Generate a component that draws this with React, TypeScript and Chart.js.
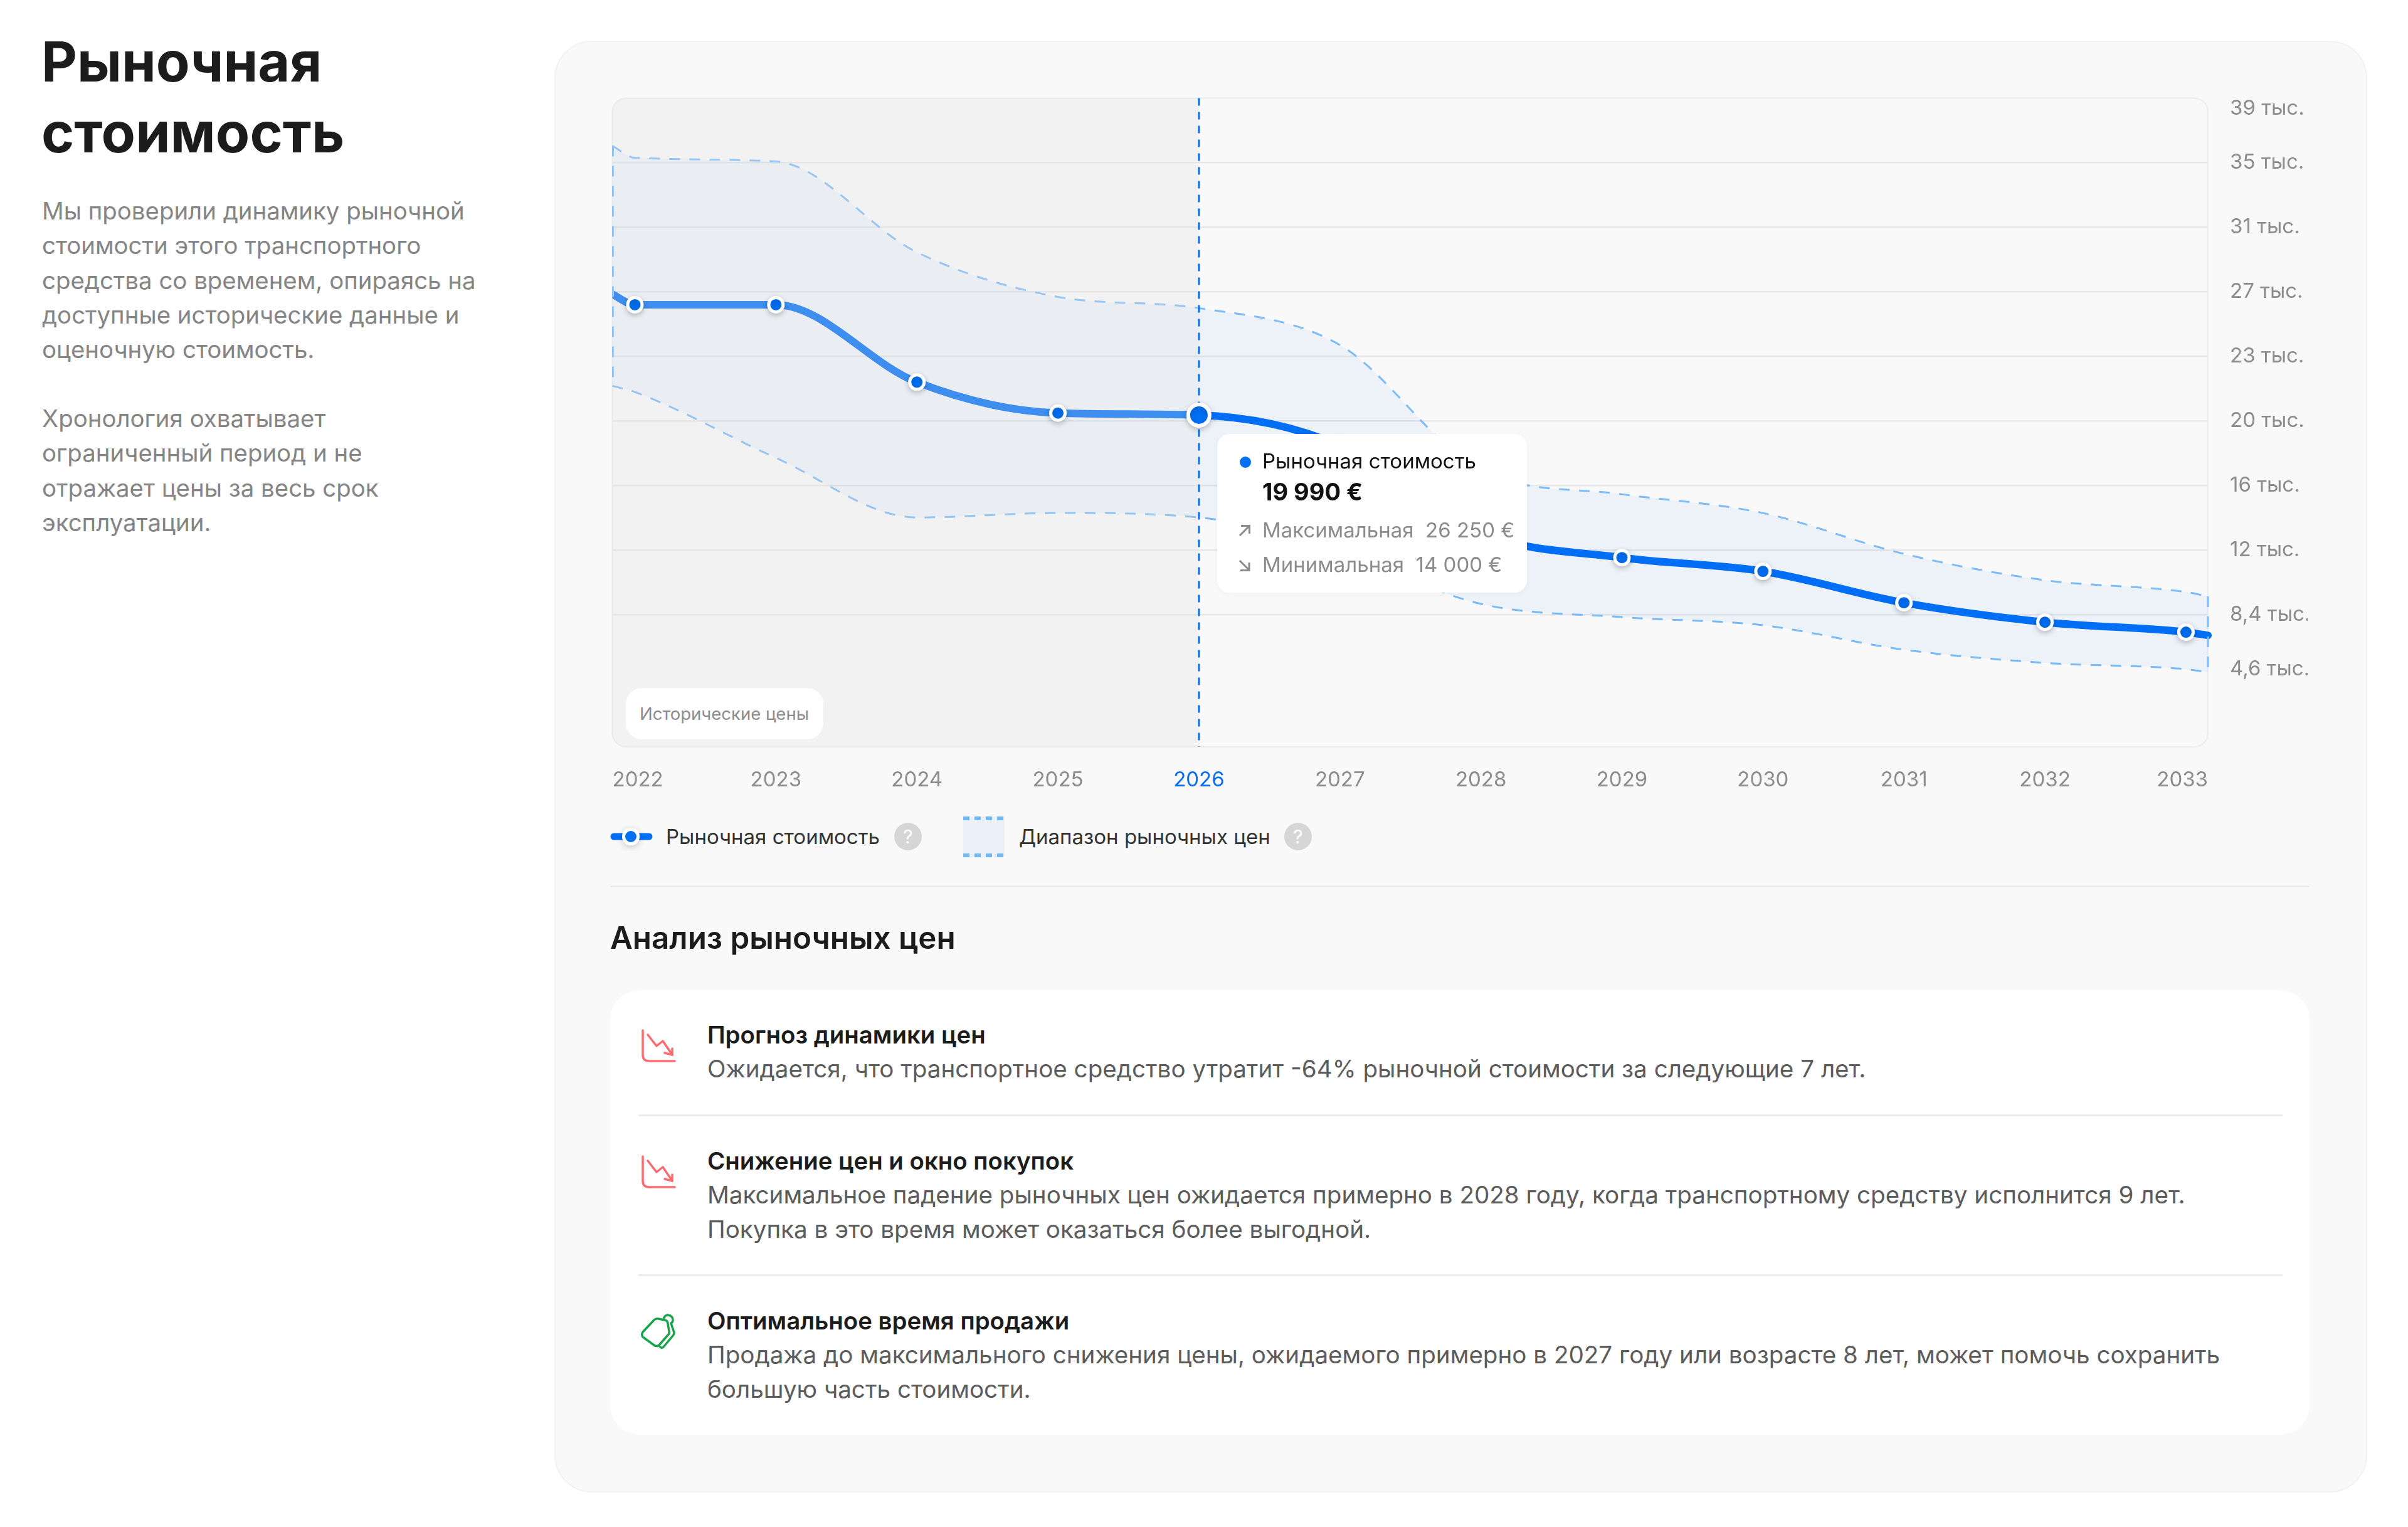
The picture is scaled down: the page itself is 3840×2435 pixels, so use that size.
import React, { useEffect, useRef } from "react";
import Chart from "chart.js/auto";

const FONT = "Inter, sans-serif";
const BLUE = "#006ff5";
const GREY_TEXT = "#8c8c8c";
const DASH_BLUE = "#7cbcf8";

// values, one per year
const years = [2022, 2023, 2024, 2025, 2026, 2027, 2028, 2029, 2030, 2031, 2032, 2033];
const marketValues = [26450, 26450, 21920, 20110, 19990, 18220, 13080, 11650, 10850, 9010, 7870, 7290];
const maxValues = [35050, 34830, 29520, 26910, 26250, 24090, 16750, 15360, 14260, 11870, 10330, 9640];
const minValues = [21340, 17490, 14000, 14260, 14000, 11980, 8940, 8170, 7690, 6260, 5490, 5120];

// the lines run on past the first and last year up to the plot edges
const xMin = 2021.84;
const xMax = 2033.156;
const marketEdges = [27060, 7100];
const maxEdges = [35750, 9380];
const minEdges = [21700, 4940];

const yMin = 575;
const yMax = 38540;
const yTickValues = [37930, 34760, 30980, 27200, 23420, 19640, 15860, 12080, 8300, 5120];
const yTickLabels = ["39 тыс.", "35 тыс.", "31 тыс.", "27 тыс.", "23 тыс.", "20 тыс.", "16 тыс.", "12 тыс.", "8,4 тыс.", "4,6 тыс."];
const xTickValues = [xMin, 2023, 2024, 2025, 2026, 2027, 2028, 2029, 2030, 2031, 2032, xMax];
const xTickLabels = ["2022", "2023", "2024", "2025", "2026", "2027", "2028", "2029", "2030", "2031", "2032", "2033"];
const currentYear = 2026;

const introLines = [
  ["Мы проверили динамику рыночной", 336],
  ["стоимости этого транспортного", 391],
  ["средства со временем, опираясь на", 447],
  ["доступные исторические данные и", 502],
  ["оценочную стоимость.", 557],
  ["Хронология охватывает", 667],
  ["ограниченный период и не", 722],
  ["отражает цены за весь срок", 778],
  ["эксплуатации.", 833],
];

const withEdges = (edges, values) => [
  { x: xMin, y: edges[0] },
  ...values.map((v, i) => ({ x: years[i], y: v })),
  { x: xMax, y: edges[1] },
];

const bandPlugin = {
  id: "band",
  beforeDatasetsDraw(chart) {
    const { ctx, chartArea: a } = chart;
    ctx.save();
    ctx.beginPath();
    ctx.roundRect(a.left, a.top, a.right - a.left, a.bottom - a.top, 22);
    ctx.strokeStyle = "#ececec";
    ctx.lineWidth = 2;
    ctx.stroke();
    ctx.restore();
  },
  beforeDatasetDraw(chart, args) {
    if (args.index === 0) {
      chart.ctx.save();
      chart.ctx.shadowColor = "rgba(0,0,0,0.2)";
      chart.ctx.shadowBlur = 10;
      chart.ctx.shadowOffsetY = 3;
    }
  },
  afterDatasetDraw(chart, args) {
    const { ctx, chartArea: a, scales } = chart;
    if (args.index === 0) {
      ctx.restore();
      return;
    }
    if (args.index !== 1) return;
    const now = scales.x.getPixelForValue(currentYear);

    ctx.save();
    // dashed closing edges of the price range
    ctx.strokeStyle = DASH_BLUE;
    ctx.lineWidth = 3;
    ctx.setLineDash([17, 15]);
    ctx.beginPath();
    ctx.moveTo(a.left + 1, scales.y.getPixelForValue(maxEdges[0]));
    ctx.lineTo(a.left + 1, scales.y.getPixelForValue(minEdges[0]));
    ctx.moveTo(a.right, scales.y.getPixelForValue(maxEdges[1]));
    ctx.lineTo(a.right, scales.y.getPixelForValue(minEdges[1]));
    ctx.stroke();
    ctx.setLineDash([]);

    // historical part is greyed over the lines
    ctx.save();
    ctx.beginPath();
    ctx.roundRect(a.left, a.top, now - a.left, a.bottom - a.top, [22, 0, 0, 22]);
    ctx.fillStyle = "rgba(226,226,226,0.27)";
    ctx.fill();
    ctx.restore();

    ctx.strokeStyle = BLUE;
    ctx.lineWidth = 3;
    ctx.setLineDash([12, 10]);
    ctx.beginPath();
    ctx.moveTo(now, a.top);
    ctx.lineTo(now, a.bottom);
    ctx.stroke();
    ctx.restore();
  },
};

const MarketChart = () => {
  const canvasRef = useRef(null);

  useEffect(() => {
    const activeIndex = years.indexOf(currentYear);
    const chart = new Chart(canvasRef.current, {
      type: "line",
      data: {
        datasets: [
          {
            label: "Точки",
            data: years.map((y, i) => ({ x: y, y: marketValues[i] })),
            showLine: false,
            backgroundColor: BLUE,
            borderColor: "#ffffff",
            pointBackgroundColor: BLUE,
            pointBorderColor: "#ffffff",
            pointRadius: (c) => (c.dataIndex === activeIndex ? 17 : 11.5),
            pointBorderWidth: (c) => (c.dataIndex === activeIndex ? 6 : 5),
            order: 0,
          },
          {
            label: "Рыночная стоимость",
            data: withEdges(marketEdges, marketValues),
            borderColor: BLUE,
            borderWidth: 12,
            borderCapStyle: "round",
            cubicInterpolationMode: "monotone",
            pointRadius: 0,
            clip: { left: 0, right: 8, top: 0, bottom: 0 },
            order: 1,
          },
          {
            label: "Максимальная",
            data: withEdges(maxEdges, maxValues),
            borderColor: DASH_BLUE,
            borderWidth: 3,
            borderDash: [17, 15],
            backgroundColor: "rgba(0,110,245,0.05)",
            fill: "+1",
            cubicInterpolationMode: "monotone",
            pointRadius: 0,
            order: 2,
          },
          {
            label: "Минимальная",
            data: withEdges(minEdges, minValues),
            borderColor: DASH_BLUE,
            borderWidth: 3,
            borderDash: [17, 15],
            cubicInterpolationMode: "monotone",
            pointRadius: 0,
            order: 3,
          },
        ],
      },
      options: {
        responsive: false,
        animation: false,
        events: [],
        layout: { padding: { left: 11, top: 16, right: 0, bottom: 0 } },
        plugins: { legend: { display: false }, tooltip: { enabled: false } },
        scales: {
          x: {
            type: "linear",
            min: xMin,
            max: xMax,
            grid: { display: false },
            border: { display: false },
            afterBuildTicks: (s) => {
              s.ticks = xTickValues.map((value) => ({ value }));
            },
            afterFit: (s) => {
              s.height = 69;
              s.paddingLeft = 0;
              s.paddingRight = 0;
            },
            ticks: {
              autoSkip: false,
              maxRotation: 0,
              align: "inner",
              padding: 25,
              font: { family: FONT, size: 33 },
              color: (c) => (c.tick.value === currentYear ? "#0a6fef" : GREY_TEXT),
              callback: (value, i) => xTickLabels[i],
            },
          },
          y: {
            position: "right",
            min: yMin,
            max: yMax,
            border: { display: false },
            grid: {
              drawTicks: false,
              lineWidth: 2.5,
              // the first and last label have no line of their own
              color: (c) => (c.index === 0 || c.index === yTickValues.length - 1 ? "transparent" : "#e7e7e7"),
            },
            afterBuildTicks: (s) => {
              s.ticks = yTickValues.map((value) => ({ value }));
            },
            afterFit: (s) => {
              s.width = 159;
              s.paddingTop = 0;
              s.paddingBottom = 0;
            },
            ticks: {
              autoSkip: false,
              padding: 35,
              font: { family: FONT, size: 33 },
              color: GREY_TEXT,
              callback: (value, i) => yTickLabels[i],
            },
          },
        },
      },
      plugins: [bandPlugin],
    });

    return () => chart.destroy();
  }, []);

  return (
    <canvas
      ref={canvasRef}
      width={2720}
      height={1120}
      style={{ position: "absolute", left: 960, top: 140, width: 2720, height: 1120 }}
    />
  );
};

// a line of text placed by its vertical centre
const Line = ({ x, cy, size, color, weight = 400, children }: any) => (
  <div
    style={{
      position: "absolute",
      left: x,
      top: cy - size,
      height: size * 2,
      lineHeight: `${size * 2}px`,
      fontSize: size,
      fontWeight: weight,
      color,
      whiteSpace: "pre",
    }}
  >
    {children}
  </div>
);

const Box = ({ style }: any) => <div style={{ position: "absolute", ...style }} />;

const HelpDot = ({ x, cy }: any) => (
  <div
    style={{
      position: "absolute",
      left: x - 22,
      top: cy - 22,
      width: 44,
      height: 44,
      borderRadius: 22,
      background: "#d6d6d6",
      color: "#fff",
      fontSize: 30,
      lineHeight: "44px",
      textAlign: "center",
    }}
  >
    ?
  </div>
);

const DropIcon = ({ x, y }: any) => (
  <svg
    style={{ position: "absolute", left: x, top: y }}
    width={80}
    height={80}
    fill="none"
    stroke="#ff6b70"
    strokeWidth={3.5}
    strokeLinecap="round"
    strokeLinejoin="round"
  >
    <path d="M15 13 V52 Q15 62 25 62 H66" />
    <path d="M23 20 L37 38 L47 30 L62 52" />
    <path d="M50 49 L62 52 L62 42" />
  </svg>
);

const TagIcon = ({ x, y }: any) => (
  <svg
    style={{ position: "absolute", left: x, top: y }}
    width={80}
    height={80}
    fill="none"
    stroke="#16a34a"
    strokeWidth={3.5}
    strokeLinecap="round"
    strokeLinejoin="round"
  >
    <path d="M15 47 Q12 42 16 38 L33 20 Q36 17 40 18 L50 20 Q55 21 55 26 L57 38 Q58 41 55 44 L41 60 Q37 63 33 60 Z" />
    <path d="M49 19 Q48 13 55 12 Q63 13 63 20 Q63 24 60 25 L65 40 Q65 43 63 45 L48 63 Q45 66 42 62" />
  </svg>
);

const Arrow = ({ x, y, down }: any) => (
  <svg style={{ position: "absolute", left: x, top: y }} width={22} height={20} fill="none" stroke={GREY_TEXT} strokeWidth={3}>
    {down ? <path d="M3 2 L18 17 M18 5 V17.5 H4" /> : <path d="M3 18 L18 3 M5 2.5 H18.5 V15" />}
  </svg>
);

export default function App() {
  return (
    <div
      style={{
        position: "absolute",
        left: 0,
        top: 0,
        width: 3840,
        height: 2435,
        overflow: "hidden",
        background: "#fff",
        fontFamily: FONT,
      }}
    >
      <Line x={66} cy={98} size={88} color="#1c1c1c" weight={700}>Рыночная</Line>
      <Line x={66} cy={211} size={89} color="#1c1c1c" weight={700}>стоимость</Line>
      {introLines.map(([text, cy]) => (
        <Line key={text} x={67} cy={cy} size={38.4} color="#858585">{text}</Line>
      ))}

      <Box
        style={{
          left: 884,
          top: 65,
          width: 2891,
          height: 2315,
          boxSizing: "border-box",
          borderRadius: 60,
          background: "#f9f9f9",
          border: "2px solid #f2f2f2",
        }}
      />

      <MarketChart />

      <Box style={{ left: 998, top: 1097, width: 315, height: 82, borderRadius: 26, background: "#fff" }} />
      <Line x={1020} cy={1138} size={27.5} color={GREY_TEXT}>Исторические цены</Line>

      <Box
        style={{
          left: 1941,
          top: 692,
          width: 494,
          height: 253,
          borderRadius: 20,
          background: "#fff",
          boxShadow: "0 2px 10px rgba(0,0,0,0.03)",
        }}
      />
      <Box style={{ left: 1977, top: 728, width: 18, height: 18, borderRadius: 9, background: BLUE }} />
      <Line x={2013} cy={735} size={33} color="#111">Рыночная стоимость</Line>
      <Line x={2013} cy={784} size={38} color="#111" weight={700}>19 990 €</Line>
      <Arrow x={1974} y={836} />
      <Line x={2013} cy={845} size={33} color={GREY_TEXT}>Максимальная  26 250 €</Line>
      <Arrow x={1974} y={892} down />
      <Line x={2013} cy={900} size={33} color={GREY_TEXT}>Минимальная  14 000 €</Line>

      <svg style={{ position: "absolute", left: 965, top: 1308 }} width={85} height={55}>
        <defs>
          <filter id="legendShadow" x="-50%" y="-50%" width="200%" height="200%">
            <feDropShadow dx="0" dy="3" stdDeviation="6" floodColor="#000" floodOpacity="0.2" />
          </filter>
        </defs>
        <line x1={14} y1={26} x2={70} y2={26} stroke={BLUE} strokeWidth={11} strokeLinecap="round" />
        <circle cx={41} cy={26} r={11.5} fill={BLUE} stroke="#fff" strokeWidth={5} filter="url(#legendShadow)" />
      </svg>
      <Line x={1062} cy={1334} size={33} color="#333">Рыночная стоимость</Line>
      <HelpDot x={1448} cy={1334} />

      <Box style={{ left: 1536, top: 1302, width: 66, height: 65, background: "#ecf1f9" }} />
      <svg style={{ position: "absolute", left: 1536, top: 1302 }} width={66} height={65}>
        <line x1={0} y1={3} x2={66} y2={3} stroke="#72b8f8" strokeWidth={6} strokeDasharray="10 8" />
        <line x1={0} y1={62} x2={66} y2={62} stroke="#72b8f8" strokeWidth={6} strokeDasharray="10 8" />
      </svg>
      <Line x={1625} cy={1334} size={33} color="#333">Диапазон рыночных цен</Line>
      <HelpDot x={2070} cy={1334} />

      <Box style={{ left: 973, top: 1412, width: 2710, height: 3, background: "#ececec" }} />
      <Line x={973} cy={1495} size={49.3} color="#1c1c1c" weight={600}>Анализ рыночных цен</Line>

      <Box style={{ left: 973, top: 1579, width: 2710, height: 709, borderRadius: 48, background: "#fff" }} />

      <DropIcon x={1010} y={1630} />
      <Line x={1128} cy={1650} size={38.4} color="#1c1c1c" weight={600}>Прогноз динамики цен</Line>
      <Line x={1128} cy={1705} size={38.6} color="#5c5c5c">Ожидается, что транспортное средство утратит -64% рыночной стоимости за следующие 7 лет.</Line>
      <Box style={{ left: 1018, top: 1777, width: 2622, height: 3, background: "#ececec" }} />

      <DropIcon x={1010} y={1831} />
      <Line x={1128} cy={1851} size={38.4} color="#1c1c1c" weight={600}>Снижение цен и окно покупок</Line>
      <Line x={1128} cy={1906} size={38.6} color="#5c5c5c">Максимальное падение рыночных цен ожидается примерно в 2028 году, когда транспортному средству исполнится 9 лет.</Line>
      <Line x={1128} cy={1961} size={38.6} color="#5c5c5c">Покупка в это время может оказаться более выгодной.</Line>
      <Box style={{ left: 1018, top: 2032, width: 2622, height: 3, background: "#ececec" }} />

      <TagIcon x={1010} y={2085} />
      <Line x={1128} cy={2106} size={38.4} color="#1c1c1c" weight={600}>Оптимальное время продажи</Line>
      <Line x={1128} cy={2161} size={38.6} color="#5c5c5c">Продажа до максимального снижения цены, ожидаемого примерно в 2027 году или возрасте 8 лет, может помочь сохранить</Line>
      <Line x={1128} cy={2216} size={38.6} color="#5c5c5c">большую часть стоимости.</Line>
    </div>
  );
}
